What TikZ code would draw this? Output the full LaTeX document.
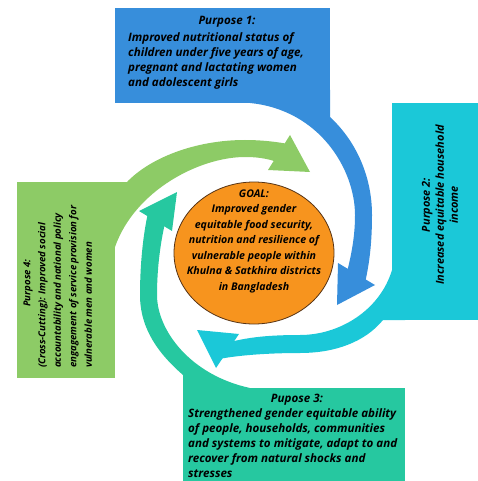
\documentclass[tikz,border=0pt]{standalone}
\usepackage{fontspec}
\setmainfont{Open Sans}
\usetikzlibrary{shapes.geometric}

\definecolor{purposeone}{RGB}{55,142,219}
\definecolor{purposetwo}{RGB}{27,200,216}
\definecolor{purposethree}{RGB}{38,200,160}
\definecolor{purposefour}{RGB}{141,203,102}
\definecolor{goalfill}{RGB}{247,148,30}
\definecolor{goalline}{RGB}{85,50,20}

\newcommand{\boxone}{(115,8) rectangle (330,103)}
\newcommand{\boxtwo}{(392,103) rectangle (478,320)}
\newcommand{\boxthree}{(183,388) rectangle (405,481)}
\newcommand{\boxfour}{(17,182) rectangle (115,378)}

\newcommand{\bandone}{(250,90) -- (330,90) -- (330,117) .. controls (355,140) and (372,175) .. (372,215) .. controls (372,245) and (369,265) .. (365,283) -- (347,272) .. controls (352,252) and (355,235) .. (355,215) .. controls (355,170) and (320,110) .. (250,103) -- cycle}
\newcommand{\bandtwo}{(405,270) -- (405,320) -- (383,320) .. controls (365,342) and (335,353) .. (300,353) .. controls (270,353) and (240,355) .. (219,359) -- (230,342) .. controls (250,337) and (270,335) .. (300,335) .. controls (340,335) and (380,310) .. (392,270) -- cycle}
\newcommand{\bandthree}{(250,400) -- (183,400) -- (183,375) .. controls (160,355) and (140,330) .. (140,295) .. controls (140,265) and (143,235) .. (148,213) -- (165,223) .. controls (160,245) and (157,270) .. (157,295) .. controls (157,330) and (190,375) .. (250,388) -- cycle}
\newcommand{\bandfour}{(100,182) -- (127,182) .. controls (150,158) and (195,140) .. (245,140) .. controls (262,140) and (278,142) .. (288,144) -- (277,162) .. controls (266,158) and (255,157) .. (245,157) .. controls (200,157) and (135,190) .. (115,247) -- (100,247) -- cycle}

\newcommand{\headone}{(375,285) -- (337,305) -- (338,263) -- cycle}
\newcommand{\headtwo}{(216,368) -- (197,330) -- (239,334) -- cycle}
\newcommand{\headthree}{(139,211) -- (177,192) -- (172,231) -- cycle}
\newcommand{\headfour}{(290,135) -- (310,172) -- (268,170) -- cycle}

\begin{document}
\begin{tikzpicture}[x=1pt,y=-1pt,
		purposetext/.style={font=\bfseries\itshape\fontsize{11.6}{15}\selectfont,inner sep=0pt},
		sidetext/.style={font=\bfseries\itshape\fontsize{11}{14}\selectfont,inner sep=0pt},
		smalltext/.style={font=\bfseries\itshape\fontsize{9.6}{15.5}\selectfont,inner sep=0pt},
		goaltext/.style={font=\bfseries\itshape\fontsize{10.6}{15.5}\selectfont,inner sep=0pt}]
	\useasboundingbox (0,0) rectangle (478,481);

	% boxes with their bands running round the goal
	\fill[purposefour] \boxfour;
	\fill[purposefour] \bandfour;
	\fill[purposefour] \headfour;
	\fill[purposethree] \boxthree;
	\fill[purposethree] \bandthree;
	\fill[purposethree] \headthree;
	\fill[purposetwo] \boxtwo;
	\fill[purposetwo] \bandtwo;
	\fill[purposetwo] \headtwo;
	\fill[purposeone] \boxone;
	\fill[purposeone] \bandone;
	\fill[purposeone] \headone;

	\node[ellipse,draw=goalline,line width=0.8pt,fill=goalfill,minimum width=160pt,minimum height=142pt] (goal) at (254,253) {};
	\node[goaltext,align=center] (goaltxt) at (254,241) {GOAL:\\Improved gender\\equitable food security,\\nutrition and resilience of\\vulnerable people within\\Khulna \& Satkhira districts\\in Bangladesh};

	\node[purposetext] (p1title) at (227,22) {Purpose 1:};
	\node[purposetext,align=left,anchor=north west] (p1text) at (128,32) {Improved nutritional status of\\children under five years of age,\\pregnant and lactating women\\and adolescent girls};

	\node[sidetext,align=center,rotate=90] (p2text) at (440,205) {Purpose 2:\\Increased equitable household\\income};

	\node[purposetext] (p3title) at (297,400) {Pupose 3:};
	\node[purposetext,align=left,anchor=north west] (p3text) at (188,408) {Strengthened gender equitable ability\\of people, households, communities\\and systems to mitigate, adapt to and\\recover from natural shocks and\\stresses};

	\node[smalltext,rotate=90] (p4title) at (28,283) {Purpose 4:};
	\node[smalltext,align=left,rotate=90,anchor=north west] (p4text) at (38,368) {(Cross-Cutting): Improved social\\accountability and national policy\\engagement of service provision for\\vulnerable men and women};
\end{tikzpicture}
\end{document}
